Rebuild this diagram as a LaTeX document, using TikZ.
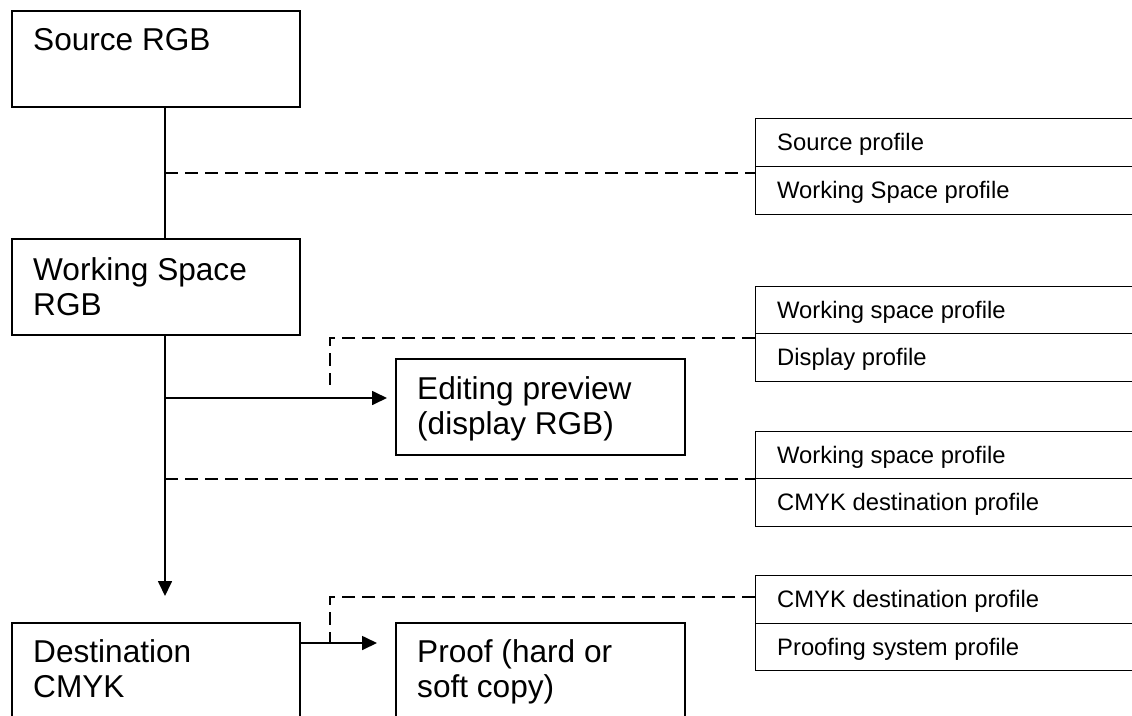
\documentclass[tikz,border=0pt]{standalone}
\usepackage{fontspec}
\setmainfont{Liberation Sans}
\usetikzlibrary{arrows.meta,calc}
\tikzset{
  mainbox/.style={draw, line width=1.9pt, rectangle, inner sep=0pt, anchor=north west},
  cellbox/.style={draw, line width=1.3pt, rectangle, inner sep=0pt, anchor=north west, minimum width=400pt, minimum height=48pt},
  bigtxt/.style={inner sep=0pt, anchor=base west, font=\fontsize{31.6}{35}\selectfont},
  smalltxt/.style={inner sep=0pt, anchor=base west, font=\fontsize{23.8}{28}\selectfont},
  conn/.style={line width=1.7pt},
  arr/.style={line width=1.7pt, -{Triangle[length=15pt, width=14pt]}},
  dsh/.style={line width=1.5pt, dash pattern=on 13pt off 7pt},
}
\begin{document}
\begin{tikzpicture}[x=1pt, y=-1pt]
\useasboundingbox (0,0) rectangle (1132,715);
\clip (0,0) rectangle (1132,715);
\fill[white] (0,0) rectangle (1132,715);

% main boxes
\node[mainbox, minimum width=288pt, minimum height=96pt] (src) at (11,10) {};
\node[mainbox, minimum width=288pt, minimum height=96pt] (ws) at (11,238) {};
\node[mainbox, minimum width=288pt, minimum height=140pt] (dest) at (11,622) {};
\node[mainbox, minimum width=289pt, minimum height=96pt] (edit) at (395,358) {};
\node[mainbox, minimum width=289pt, minimum height=140pt] (proof) at (395,622) {};

\node[bigtxt] (srcT) at ($(src.north west)+(22,40)$) {Source RGB};
\node[bigtxt] (wsT1) at ($(ws.north west)+(22,42)$) {Working Space};
\node[bigtxt] (wsT2) at ($(ws.north west)+(22,77)$) {RGB};
\node[bigtxt] (edT1) at ($(edit.north west)+(22,41)$) {Editing preview};
\node[bigtxt] (edT2) at ($(edit.north west)+(22,76)$) {(display RGB)};
\node[bigtxt] (deT1) at ($(dest.north west)+(22,40)$) {Destination};
\node[bigtxt] (deT2) at ($(dest.north west)+(22,75)$) {CMYK};
\node[bigtxt] (prT1) at ($(proof.north west)+(22,40)$) {Proof (hard or};
\node[bigtxt] (prT2) at ($(proof.north west)+(22,75)$) {soft copy)};

% profile boxes
\node[cellbox] (r1a) at (755,118) {};
\node[cellbox] (r1b) at (755,166) {};
\node[cellbox, minimum height=47pt] (r2a) at (755,286) {};
\node[cellbox] (r2b) at (755,333) {};
\node[cellbox, minimum height=47pt] (r3a) at (755,431) {};
\node[cellbox] (r3b) at (755,478) {};
\node[cellbox] (r4a) at (755,575) {};
\node[cellbox, minimum height=47pt] (r4b) at (755,623) {};

\node[smalltxt] (t1a) at ($(r1a.west)+(22,8)$) {Source profile};
\node[smalltxt] (t1b) at ($(r1b.west)+(22,8)$) {Working Space profile};
\node[smalltxt] (t2a) at ($(r2a.west)+(22,8)$) {Working space profile};
\node[smalltxt] (t2b) at ($(r2b.west)+(22,8)$) {Display profile};
\node[smalltxt] (t3a) at ($(r3a.west)+(22,8)$) {Working space profile};
\node[smalltxt] (t3b) at ($(r3b.west)+(22,8)$) {CMYK destination profile};
\node[smalltxt] (t4a) at ($(r4a.west)+(22,8)$) {CMYK destination profile};
\node[smalltxt] (t4b) at ($(r4b.west)+(22,8)$) {Proofing system profile};

% trunk
\coordinate (trunk) at (165,0);
\draw[conn] (src.south -| trunk) -- (ws.north -| trunk);
\draw[arr, shorten >=26pt] (ws.south -| trunk) -- (dest.north -| trunk);

% arrows
\coordinate (a1) at (165,398);
\draw[arr, shorten >=8pt] (a1) -- (a1 -| edit.west);
\coordinate (a2) at (299,643);
\draw[arr, shorten >=18pt] (a2) -- (a2 -| proof.west);

% dashed links
\coordinate (d1) at (165,173);
\draw[dsh] (d1) -- (d1 -| r1a.west);
\coordinate (d2c) at (330,338);
\coordinate (d2e) at (330,385);
\draw[dsh] (d2c -| r2a.west) -- (d2c) -- (d2e);
\coordinate (d3) at (165,479);
\draw[dsh] (d3) -- (d3 -| r3a.west);
\coordinate (d4c) at (330,597);
\draw[dsh] (d4c -| r4a.west) -- (d4c) -- (d4c |- a2);
\end{tikzpicture}
\end{document}
